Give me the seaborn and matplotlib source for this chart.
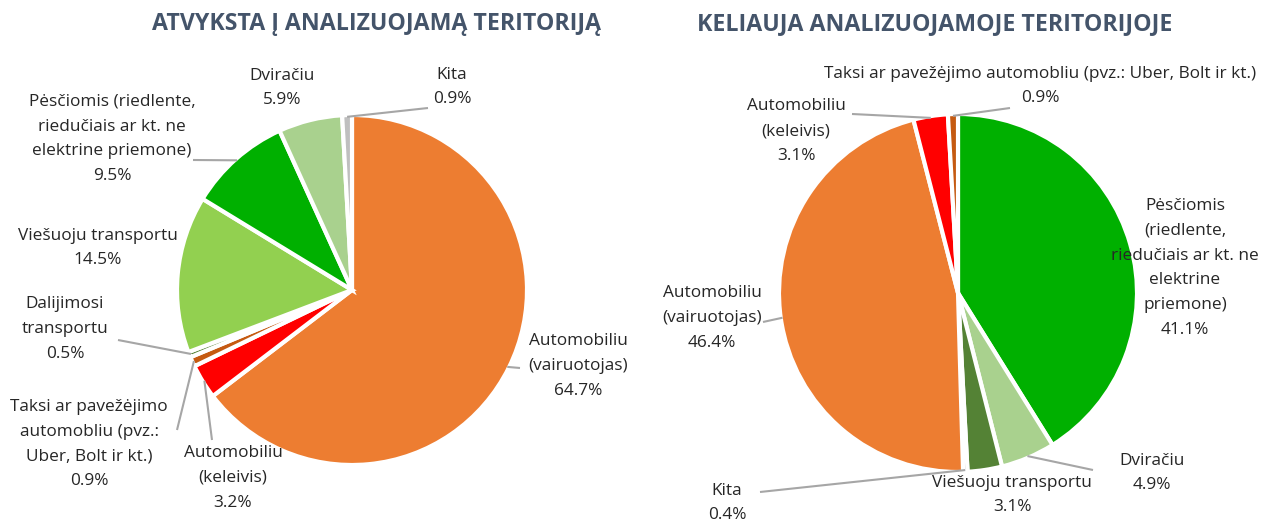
import matplotlib
matplotlib.use("Agg")
import matplotlib.pyplot as plt
import seaborn as sns
import numpy as np

sns.set_theme(style="white")
plt.rcParams['font.family'] = ['Open Sans', 'DejaVu Sans']

# ---------------- data ----------------
left_title = "ATVYKSTA Į ANALIZUOJAMĄ TERITORIJĄ"
left_labels = ["Automobiliu\n(vairuotojas)", "Automobiliu\n(keleivis)",
               "Taksi ar pavežėjimo\nautomobliu (pvz.:\nUber, Bolt ir kt.)",
               "Dalijimosi\ntransportu", "Viešuoju transportu",
               "Pėsčiomis (riedlente,\nriedučiais ar kt. ne\nelektrine priemone)",
               "Dviračiu", "Kita"]
left_values = [64.7, 3.2, 0.9, 0.5, 14.5, 9.5, 5.9, 0.9]
left_colors = ["#ED7D31", "#FF0000", "#C55A11", "#548235", "#92D050",
               "#00B000", "#A9D18E", "#BFBFBF"]

right_title = "KELIAUJA ANALIZUOJAMOJE TERITORIJOJE"
right_labels = ["Pėsčiomis\n(riedlente,\nriedučiais ar kt. ne\nelektrine\npriemone)",
                "Dviračiu", "Viešuoju transportu", "Kita",
                "Automobiliu\n(vairuotojas)", "Automobiliu\n(keleivis)",
                "Taksi ar pavežėjimo automobliu (pvz.: Uber, Bolt ir kt.)"]
right_values = [41.1, 4.9, 3.1, 0.4, 46.4, 3.1, 0.9]
right_colors = ["#00B000", "#A9D18E", "#548235", "#BFBFBF", "#ED7D31",
                "#FF0000", "#C55A11"]

# ---------------- layout (pixel space) ----------------
W, H = 1283, 523
left_center, left_r = (352, 290), 175
right_center, right_r = (958, 293), 179

left_text_pos = [(578, 366), (233, 478), (89, 444), (65, 329), (98, 248),
                 (112, 139), (282, 88), (452, 87)]
left_line_end = [(520, 368), (212, 440), (177, 430), (118, 340), None,
                 (193, 160), None, (428, 108)]

right_text_pos = [(1185, 268), (1152, 473), (1012, 495), (727, 503),
                  (712, 318), (796, 131), (1040, 86)]
right_line_end = [None, (1093, 470), None, (760, 492), (763, 322),
                  (852, 114), (1010, 108)]

fig = plt.figure(figsize=(W / 100, H / 100), dpi=100)
ax = fig.add_axes([0, 0, 1, 1])
ax.set_xlim(0, W)
ax.set_ylim(0, H)
ax.set_aspect('equal')
ax.axis('off')

TEXT_COLOR = "#262626"
LINE_COLOR = "#A6A6A6"
TITLE_COLOR = "#44546A"


def draw(values, colors, labels, center, r, text_pos, line_end, title, title_x):
    cx, cy = center
    cy = H - cy
    wedges, _ = ax.pie(values, colors=colors, startangle=90, counterclock=False,
                       center=(cx, cy), radius=r,
                       wedgeprops=dict(edgecolor='white', linewidth=3))
    for w, lab, v, tp, le in zip(wedges, labels, values, text_pos, line_end):
        mid = np.deg2rad((w.theta1 + w.theta2) / 2)
        px, py = cx + r * 0.99 * np.cos(mid), cy + r * 0.99 * np.sin(mid)
        if le is not None:
            ax.plot([px, le[0]], [py, H - le[1]], color=LINE_COLOR, lw=1.5,
                    solid_capstyle='butt', zorder=1)
        ax.text(tp[0], H - tp[1], f"{lab}\n{v:.1f}%", ha='center', va='center',
                multialignment='center', fontsize=12.4, color=TEXT_COLOR,
                linespacing=1.74)
    ax.text(title_x, H - 24, title, ha='center', va='center', fontsize=16.7,
            fontweight='bold', color=TITLE_COLOR)


draw(left_values, left_colors, left_labels, left_center, left_r,
     left_text_pos, left_line_end, left_title, 377)
draw(right_values, right_colors, right_labels, right_center, right_r,
     right_text_pos, right_line_end, right_title, 935)

ax.set_xlim(0, W)
ax.set_ylim(0, H)
fig.savefig("out.png", dpi=100, facecolor='white')
